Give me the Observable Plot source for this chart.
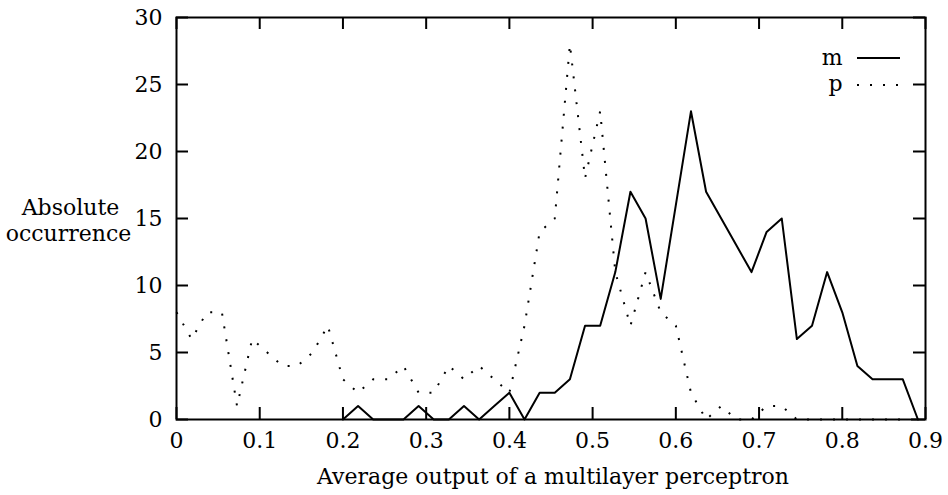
<!DOCTYPE html>
<html><head><meta charset="utf-8">
<script src="https://cdn.jsdelivr.net/npm/d3@7"></script>
<script src="https://cdn.jsdelivr.net/npm/@observablehq/plot@0.6"></script>
<style>
html,body{margin:0;padding:0;background:#fff;}
#chart{width:948px;height:495px;}
</style></head><body><div id="chart"></div>
<script>
// bin index k -> x = k / binDivisor
const binDivisor = 55;
const mBins   = [11,12,13,14,15,16,17,18,19,20,21,22,23,24,25,26,27,28,29,30,31,32,33,34,35,36,37,38,39,40,41,42,43,44,45,46,47,48,49];
const mValues = [ 0, 1, 0, 0, 0, 1, 0, 0, 1, 0, 1, 2, 0, 2, 2, 3, 7, 7,11,17,15, 9,16,23,17,15,13,11,14,15, 6, 7,11, 8, 4, 3, 3, 3, 0];
const pBins   = [0,1,2,3,4,5,6,7,8,9,10,11,12,13,14,15,16,17,18,19,20,21,22,23,24,25,26,27,28,29,30,31,32,33,34,35,36,37,38,39,40,41,42,43,44,45,46,47,48,49];
const pValues = [8,6,8,8,1,6,5,4,4,5, 7, 3, 2, 3, 3, 4, 2, 2, 4, 3, 4, 3, 2, 7,14,15,28,18,23,11, 7,11, 8, 7, 2, 0, 1, 0, 0, 1, 1, 0, 0, 0, 0, 0, 0, 0, 0, 0];
const xTicks = [0,0.1,0.2,0.3,0.4,0.5,0.6,0.7,0.8,0.9];
const yTicks = [0,5,10,15,20,25,30];
const seriesNames = ["m","p"];
const xLabel = "Average output of a multilayer perceptron";
const yLabelLines = ["Absolute", "occurrence"];

const mData = mBins.map((k,i)=>({x:k/binDivisor, y:mValues[i]}));
const pData = pBins.map((k,i)=>({x:k/binDivisor, y:pValues[i]}));

const W=948, H=495, mL=176, mR=23, mT=17, mB=76;
const innerW = W-mL-mR, innerH = H-mT-mB, tk = 12;
const font = "DejaVu Serif";

const chart = Plot.plot({
  width: W, height: H,
  marginLeft: mL, marginRight: mR, marginTop: mT, marginBottom: mB,
  style: {fontFamily: font, fontSize: "22px", color: "#000", background: "#fff"},
  x: {domain: [0, 0.9]},
  y: {domain: [0, 30]},
  marks: [
    Plot.line(pData, {x:"x", y:"y", stroke:"#000", strokeWidth:2, strokeDasharray:"2,11", strokeLinecap:"butt"}),
    Plot.line(mData, {x:"x", y:"y", stroke:"#000", strokeWidth:2}),
    Plot.ruleX(xTicks, {x: d=>d, insetTop: innerH - tk, stroke:"#000", strokeWidth:2}),
    Plot.ruleX(xTicks, {x: d=>d, insetBottom: innerH - tk, stroke:"#000", strokeWidth:2}),
    Plot.ruleY(yTicks, {y: d=>d, insetRight: innerW - tk, stroke:"#000", strokeWidth:2}),
    Plot.ruleY(yTicks, {y: d=>d, insetLeft: innerW - tk, stroke:"#000", strokeWidth:2}),
    Plot.frame({stroke:"#000", strokeWidth:2}),
    Plot.axisX(xTicks, {tickSize:0, tickPadding:13, fontSize:22, fontFamily:font, tickFormat: d => String(+d.toFixed(1)), label:null}),
    Plot.axisY(yTicks, {tickSize:0, tickPadding:14, fontSize:22, fontFamily:font, label:null}),
    Plot.text([xLabel], {frameAnchor:"bottom", dy:57, dx:2, fontSize:22, fontFamily:font, lineAnchor:"middle", text:d=>d, fill:"#000"}),
    Plot.text([yLabelLines[0]], {frameAnchor:"left", dx:-106, dy:-11, fontSize:22, fontFamily:font, textAnchor:"middle", lineAnchor:"middle", text:d=>d, fill:"#000"}),
    Plot.text([yLabelLines[1]], {frameAnchor:"left", dx:-108, dy:15, fontSize:22, fontFamily:font, textAnchor:"middle", lineAnchor:"middle", text:d=>d, fill:"#000"}),
    Plot.text([seriesNames[0]], {frameAnchor:"top-right", dx:-(925-842), dy:57-17, textAnchor:"end", lineAnchor:"middle", fontSize:22, fontFamily:font, text:d=>d, fill:"#000"}),
    Plot.text([seriesNames[1]], {frameAnchor:"top-right", dx:-(925-842), dy:83-17, textAnchor:"end", lineAnchor:"middle", fontSize:22, fontFamily:font, text:d=>d, fill:"#000"})
  ]
});
document.getElementById("chart").appendChild(chart);
// legend sample lines
const svg = d3.select(chart);
svg.append("line").attr("x1",857).attr("x2",900).attr("y1",58).attr("y2",58)
  .attr("stroke","#000").attr("stroke-width",2);
svg.append("line").attr("x1",857).attr("x2",900).attr("y1",85).attr("y2",85)
  .attr("stroke","#000").attr("stroke-width",2).attr("stroke-dasharray","2,11");
</script>
</body></html>
